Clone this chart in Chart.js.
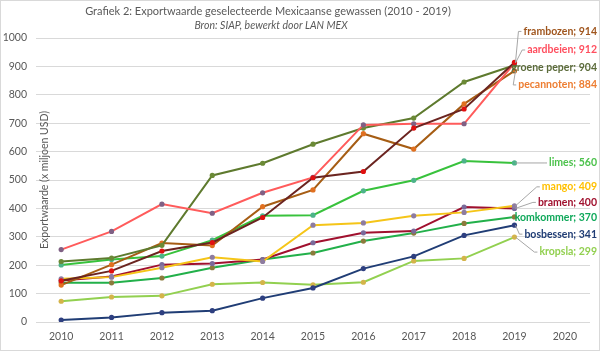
<!DOCTYPE html>
<html>
<head>
<meta charset="utf-8">
<script src="https://cdn.jsdelivr.net/npm/chart.js@4/dist/chart.umd.min.js"></script>
<style>
    html, body { margin: 0; padding: 0; background: #fff; }
    #wrap { width: 600px; height: 351px; position: relative; }
</style>
</head>
<body>
<div id="wrap"><canvas id="exportChart" width="600" height="351"></canvas></div>
<script>
// Exportwaarde per gewas (x miljoen USD), 2010 - 2019
const years = ['2010', '2011', '2012', '2013', '2014', '2015', '2016', '2017', '2018', '2019', '2020'];

const frambozen   = [145, 180, 250, 280, 368, 508, 530, 683, 750, 914];
const aardbeien   = [255, 319, 415, 383, 455, 509, 694, 698, 698, 912];
const groenePeper = [213, 225, 270, 516, 559, 626, 683, 718, 845, 904];
const pecannoten  = [130, 202, 278, 269, 406, 465, 663, 609, 768, 884];
const limes       = [201, 220, 232, 288, 374, 376, 462, 499, 567, 560];
const mango       = [152, 158, 191, 228, 213, 341, 349, 374, 386, 409];
const bramen      = [146, 160, 202, 206, 220, 279, 314, 320, 405, 400];
const komkommer   = [138, 138, 155, 191, 220, 243, 285, 313, 347, 370];
const bosbessen   = [7, 16, 33, 40, 84, 120, 188, 231, 305, 341];
const kropsla     = [73, 88, 92, 133, 139, 131, 140, 215, 224, 299];

const seriesNames = ['frambozen', 'aardbeien', 'groene peper', 'pecannoten', 'limes',
                     'mango', 'bramen', 'komkommer', 'bosbessen', 'kropsla'];
const seriesData = [frambozen, aardbeien, groenePeper, pecannoten, limes,
                    mango, bramen, komkommer, bosbessen, kropsla];

// Styles (line, marker, label) per serie
const lineColors   = ['#6B2420', '#FF5B5B', '#5E7A2E', '#A65D14', '#38C23C',
                      '#F5C518', '#A0102E', '#22B04A', '#203D75', '#92D050'];
const markerColors = ['#E01010', '#7F6084', '#6B8A36', '#E07020', '#4DB38A',
                      '#8E7CA0', '#7A6A9A', '#8C7A3C', '#2E3F80', '#D4B44A'];
const labelColors  = ['#A0561E', '#FF4F5F', '#5B6B3A', '#ED7D31', '#4CC24C',
                      '#FFC000', '#A0102E', '#0FA85A', '#203D75', '#92D050'];
// vertical offset (px) of each end label relative to its 2019 point
const labelDy = [-31, -13, 2.5, 14, 0, -19, -6, 1, 9, 15];

const textGrey = '#595959';
const fontFam = 'Lato, "Open Sans", sans-serif';

// Title, subtitle, axis title, border
const decorPlugin = {
    id: 'decor',
    beforeDraw(chart) {
        const ctx = chart.ctx;
        ctx.save();
        ctx.strokeStyle = '#D9D9D9';
        ctx.lineWidth = 1;
        ctx.strokeRect(0.5, 0.5, 599, 350);
        ctx.restore();
    },
    afterDraw(chart) {
        const ctx = chart.ctx;
        ctx.save();
        ctx.fillStyle = textGrey;
        ctx.textAlign = 'center';
        ctx.textBaseline = 'middle';
        ctx.font = '11px ' + fontFam;
        ctx.fillText('Grafiek 2: Exportwaarde geselecteerde Mexicaanse gewassen (2010 - 2019)', 268, 11);
        ctx.font = 'italic 10.5px ' + fontFam;
        ctx.fillText('Bron: SIAP, bewerkt door LAN MEX', 271, 26);

        // y-axis title sits inside the plot area
        ctx.translate(45, 180);
        ctx.rotate(-Math.PI / 2);
        ctx.font = '10.5px ' + fontFam;
        ctx.fillText('Exportwaarde (x miljoen USD)', 0, 0);
        ctx.restore();
    }
};

// End labels with leader lines
const endLabelPlugin = {
    id: 'endLabels',
    afterDatasetsDraw(chart) {
        const ctx = chart.ctx;
        ctx.save();
        ctx.font = 'bold 10.5px ' + fontFam;
        ctx.textBaseline = 'middle';
        ctx.textAlign = 'right';
        const rightX = 597;
        seriesData.forEach((arr, i) => {
            const meta = chart.getDatasetMeta(i);
            const pt = meta.data[arr.length - 1];
            if (!pt) return;
            const text = seriesNames[i] + '; ' + arr[arr.length - 1];
            const w = ctx.measureText(text).width;
            const left = rightX - w;
            const ly = pt.y + labelDy[i];

            // leader line only when label is away from the point
            if (Math.abs(labelDy[i]) > 4 || left - pt.x > 10) {
                ctx.strokeStyle = '#A6A6A6';
                ctx.lineWidth = 1;
                ctx.beginPath();
                ctx.moveTo(pt.x + 1, pt.y);
                ctx.lineTo(left - 5, ly);
                ctx.lineTo(left - 2, ly);
                ctx.stroke();
            }
            ctx.fillStyle = labelColors[i];
            ctx.fillText(text, rightX, ly);
        });
        ctx.restore();
    }
};

function buildDatasets() {
    return seriesData.map((arr, i) => ({
        label: seriesNames[i],
        data: arr,
        borderColor: lineColors[i],
        backgroundColor: markerColors[i],
        pointBackgroundColor: markerColors[i],
        pointBorderColor: markerColors[i],
        pointRadius: 2.6,
        pointBorderWidth: 0,
        borderWidth: 2,
        tension: 0,
        fill: false
    }));
}

const ctx = document.getElementById('exportChart').getContext('2d');
const chart = new Chart(ctx, {
    type: 'line',
    data: {
        labels: years,
        datasets: buildDatasets()
    },
    options: {
        responsive: false,
        animation: false,
        layout: { padding: { top: 38, right: 10, left: 0, bottom: 0 } },
        plugins: {
            legend: { display: false },
            title: { display: false },
            tooltip: { enabled: false }
        },
        scales: {
            x: {
                offset: true,
                grid: { display: false, drawTicks: false },
                border: { display: false },
                ticks: {
                    color: textGrey,
                    font: { family: fontFam, size: 10.5 },
                    padding: 8,
                    maxRotation: 0
                },
                afterFit(scale) { scale.height = 29; }
            },
            y: {
                min: 0,
                max: 1000,
                grid: { color: '#D9D9D9', lineWidth: 1, drawTicks: false },
                border: { display: false },
                ticks: {
                    stepSize: 100,
                    color: textGrey,
                    font: { family: fontFam, size: 10.5 },
                    padding: 9,
                    callback: (value) => String(value)
                },
                afterFit(scale) { scale.width = 36; }
            }
        }
    },
    plugins: [decorPlugin, endLabelPlugin]
});
</script>
</body>
</html>
